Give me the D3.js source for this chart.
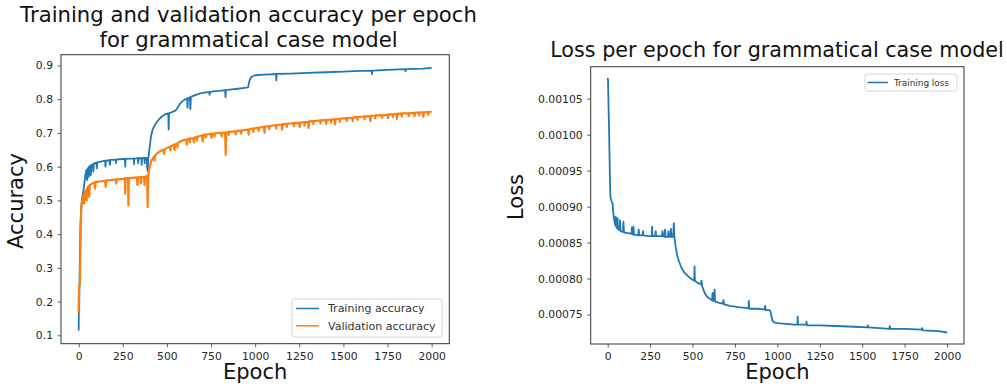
<!DOCTYPE html>
<html>
<head>
<meta charset="utf-8">
<script src="https://cdn.jsdelivr.net/npm/d3@7/dist/d3.min.js"></script>
<style>
body { margin: 0; background: #fff; }
text { font-family: "DejaVu Sans", sans-serif; }
</style>
</head>
<body>
<svg id="chart" width="1007" height="387"></svg>
<script>
// tick values
var epochTicks = [0, 250, 500, 750, 1000, 1250, 1500, 1750, 2000];
var accTicks = [0.1, 0.2, 0.3, 0.4, 0.5, 0.6, 0.7, 0.8, 0.9];
var lossTicks = [0.00075, 0.00080, 0.00085, 0.00090, 0.00095, 0.00100, 0.00105];

// [epoch, value] (spikes kept as separate points)
var trainAcc = [[0,0.114],[1,0.165],[3,0.17],[6,0.3],[10,0.42],[15,0.48],[20,0.51],[26,0.525],[32,0.55],[38,0.575],
    [44,0.59],[48,0.56],[50,0.593],[55,0.597],[58,0.57],[60,0.6],[66,0.603],[69,0.575],[72,0.605],[80,0.607],
    [83,0.585],[86,0.609],[100,0.612],[103,0.595],[106,0.613],[130,0.616],[150,0.618],[152,0.6],[154,0.618],[175,0.619],
    [177,0.605],[179,0.62],[210,0.621],[212,0.61],[214,0.621],[230,0.622],[262,0.623],[264,0.6],[266,0.623],[300,0.624],
    [312,0.624],[314,0.607],[316,0.624],[335,0.625],[337,0.61],[339,0.625],[355,0.625],[357,0.605],[359,0.625],
    [372,0.626],[374,0.61],[376,0.626],[385,0.626],[388,0.6],[391,0.587],[394,0.62],[398,0.64],[404,0.665],[410,0.69],
    [418,0.708],[428,0.72],[440,0.73],[455,0.74],[470,0.748],[490,0.755],[508,0.758],[510,0.71],[512,0.758],[530,0.762],
    [548,0.766],[560,0.775],[575,0.787],[590,0.795],[605,0.8],[615,0.803],[617,0.775],[619,0.803],[630,0.806],[633,0.77],
    [636,0.807],[660,0.812],[690,0.817],[720,0.82],[740,0.821],[742,0.813],[744,0.821],[760,0.823],[800,0.825],
    [830,0.827],[832,0.806],[834,0.827],[870,0.829],[900,0.831],[930,0.833],[960,0.835],[966,0.85],[972,0.862],
    [985,0.868],[1000,0.871],[1050,0.873],[1100,0.874],[1118,0.875],[1120,0.856],[1122,0.875],[1200,0.876],
    [1300,0.878],[1400,0.88],[1500,0.882],[1560,0.883],[1600,0.884],[1660,0.885],[1662,0.874],[1664,0.885],
    [1750,0.887],[1850,0.889],[1852,0.883],[1854,0.889],[1950,0.891],[2000,0.893]];

var valAcc = [[0,0.165],[2,0.245],[7,0.25],[10,0.35],[13,0.45],[17,0.49],[22,0.505],[27,0.515],[30,0.49],[33,0.52],
    [40,0.53],[45,0.5],[48,0.535],[55,0.542],[60,0.51],[63,0.545],[75,0.55],[90,0.553],[93,0.535],[96,0.554],
    [120,0.556],[150,0.558],[153,0.54],[156,0.559],[190,0.561],[210,0.562],[213,0.55],[216,0.562],[250,0.564],
    [262,0.565],[264,0.52],[266,0.565],[280,0.566],[282,0.485],[284,0.566],[310,0.567],[330,0.568],[333,0.545],
    [336,0.568],[350,0.569],[353,0.55],[356,0.569],[370,0.57],[373,0.545],[376,0.57],[388,0.572],[391,0.48],
    [394,0.572],[398,0.59],[403,0.6],[410,0.615],[420,0.625],[428,0.63],[430,0.618],[432,0.631],[440,0.637],
    [460,0.645],[480,0.65],[483,0.638],[486,0.651],[500,0.655],[518,0.66],[520,0.648],[522,0.66],[540,0.665],
    [543,0.65],[546,0.666],[558,0.669],[560,0.657],[562,0.67],[570,0.673],[590,0.678],[610,0.68],[613,0.665],
    [616,0.681],[628,0.683],[630,0.672],[632,0.683],[650,0.685],[653,0.672],[656,0.686],[668,0.688],[670,0.678],
    [672,0.688],[680,0.69],[700,0.693],[703,0.675],[706,0.694],[718,0.695],[720,0.686],[722,0.695],[750,0.697],
    [753,0.686],[756,0.698],[768,0.698],[770,0.69],[772,0.699],[800,0.7],[808,0.7],[810,0.69],[812,0.701],
    [830,0.701],[833,0.635],[836,0.702],[848,0.703],[850,0.694],[852,0.703],[870,0.704],[888,0.705],[890,0.696],
    [892,0.705],[900,0.706],[918,0.707],[920,0.698],[922,0.707],[930,0.708],[960,0.71],[963,0.695],[966,0.711],
    [988,0.713],[990,0.703],[992,0.713],[1000,0.714],[1018,0.715],[1020,0.706],[1022,0.716],[1050,0.718],
    [1053,0.7],[1056,0.719],[1078,0.72],[1080,0.711],[1082,0.72],[1100,0.722],[1118,0.723],[1120,0.713],
    [1122,0.723],[1150,0.725],[1153,0.71],[1156,0.726],[1178,0.727],[1180,0.718],[1182,0.727],[1200,0.728],
    [1218,0.729],[1220,0.72],[1222,0.729],[1250,0.73],[1253,0.718],[1256,0.731],[1278,0.732],[1280,0.722],
    [1282,0.732],[1300,0.733],[1303,0.715],[1306,0.734],[1328,0.735],[1330,0.726],[1332,0.735],[1350,0.736],
    [1368,0.737],[1370,0.728],[1372,0.737],[1400,0.738],[1403,0.727],[1406,0.739],[1428,0.739],[1430,0.731],
    [1432,0.74],[1450,0.74],[1453,0.725],[1456,0.741],[1478,0.742],[1480,0.733],[1482,0.742],[1500,0.743],
    [1518,0.744],[1520,0.736],[1522,0.744],[1550,0.745],[1553,0.735],[1556,0.746],[1578,0.747],[1580,0.739],
    [1582,0.747],[1600,0.748],[1618,0.749],[1620,0.74],[1622,0.749],[1650,0.75],[1653,0.735],[1656,0.751],
    [1678,0.751],[1680,0.743],[1682,0.752],[1700,0.752],[1718,0.753],[1720,0.745],[1722,0.753],[1750,0.754],
    [1753,0.744],[1756,0.755],[1778,0.755],[1780,0.747],[1782,0.756],[1800,0.756],[1803,0.742],[1806,0.757],
    [1828,0.757],[1830,0.749],[1832,0.758],[1850,0.758],[1868,0.758],[1870,0.75],[1872,0.759],[1900,0.759],
    [1903,0.75],[1906,0.76],[1928,0.76],[1930,0.752],[1932,0.761],[1950,0.761],[1953,0.748],[1956,0.761],
    [1978,0.762],[1980,0.754],[1982,0.762],[2000,0.763]];

var trainLoss = [[0,0.001079],[2,0.001076],[5,0.00104],[8,0.00101],[11,0.00097],[14,0.00093],[17,0.000912],
    [22,0.000908],[28,0.000905],[32,0.000895],[36,0.000885],[42,0.000877],[45,0.000874],[47,0.000886],[49,0.000873],
    [55,0.00087],[58,0.000884],[60,0.000869],[70,0.000867],[73,0.000881],[76,0.000866],[90,0.000865],[93,0.000879],
    [96,0.000864],[120,0.000863],[140,0.000862],[143,0.000871],[146,0.000862],[150,0.000861],[152,0.000872],
    [155,0.000861],[180,0.00086],[183,0.000868],[186,0.00086],[205,0.00086],[208,0.000866],[211,0.00086],
    [240,0.000859],[260,0.000859],[262,0.000872],[264,0.000859],[280,0.000859],[283,0.000866],[286,0.000859],
    [320,0.000859],[323,0.000866],[326,0.000859],[335,0.000858],[338,0.000868],[341,0.000858],[355,0.000858],
    [358,0.000866],[361,0.000858],[370,0.000858],[373,0.000869],[376,0.000858],[386,0.000858],[390,0.000877],
    [394,0.000856],[400,0.000845],[410,0.000832],[420,0.000824],[435,0.000815],[450,0.000809],[470,0.000804],
    [490,0.0008],[510,0.000797],[512,0.000817],[514,0.000797],[530,0.000794],[550,0.000792],[553,0.000797],
    [556,0.00079],[570,0.000781],[585,0.000775],[600,0.000772],[615,0.00077],[618,0.00078],[621,0.000769],
    [627,0.000769],[630,0.000785],[633,0.000768],[660,0.000766],[680,0.000765],[683,0.00077],[686,0.000764],
    [720,0.000762],[750,0.000761],[780,0.00076],[830,0.000759],[832,0.000769],[834,0.000758],[880,0.000758],
    [925,0.000757],[928,0.000762],[931,0.000756],[955,0.000756],[962,0.000752],[970,0.000742],[980,0.000739],
    [1000,0.000738],[1050,0.000737],[1100,0.000736],[1118,0.000736],[1120,0.000747],[1122,0.000736],
    [1170,0.000736],[1172,0.00074],[1174,0.000735],[1250,0.000735],[1350,0.000734],[1450,0.000733],
    [1530,0.000732],[1533,0.000735],[1536,0.000732],[1600,0.000731],[1660,0.00073],[1663,0.000734],[1666,0.00073],
    [1750,0.00073],[1850,0.000729],[1853,0.000731],[1856,0.000728],[1950,0.000727],[2000,0.000725]];

var blue = "#1f77b4", orange = "#ff7f0e";
var svg = d3.select("#chart");

function drawPanel(p) {
    var xScale = d3.scaleLinear().domain([-100, 2100]).range([p.left, p.right]);
    var yScale = d3.scaleLinear().domain(p.yDomain).range([p.bottom, p.top]);

    var line = d3.line()
        .x(function (d) { return xScale(d[0]); })
        .y(function (d) { return yScale(d[1]); });

    p.series.forEach(function (s) {
        svg.append("path")
            .datum(s.data)
            .attr("fill", "none")
            .attr("stroke", s.color)
            .attr("stroke-width", s.width)
            .attr("stroke-linejoin", "round")
            .attr("d", line);
    });

    var gx = svg.append("g")
        .attr("transform", "translate(0," + p.bottom + ")")
        .call(d3.axisBottom(xScale).tickValues(epochTicks).tickSize(3.5).tickPadding(5).tickFormat(d3.format("d")));
    var gy = svg.append("g")
        .attr("transform", "translate(" + p.left + ",0)")
        .call(d3.axisLeft(yScale).tickValues(p.yTicks).tickSize(3.5).tickPadding(4.5).tickFormat(p.yFormat));
    [gx, gy].forEach(function (g) {
        g.select(".domain").remove();
        g.selectAll("line").attr("stroke", "#333").attr("stroke-width", 0.8);
        g.selectAll("text").attr("fill", "#262626").style("font-size", "10.8px")
            .style("font-family", "'DejaVu Sans', sans-serif");
    });

    // frame
    svg.append("rect")
        .attr("x", p.left).attr("y", p.top)
        .attr("width", p.right - p.left).attr("height", p.bottom - p.top)
        .attr("fill", "none").attr("stroke", "#333").attr("stroke-width", 1);

    // titles and labels
    var t = svg.append("text")
        .attr("text-anchor", "middle")
        .attr("fill", "#111")
        .style("font-size", p.titleFont);
    p.title.forEach(function (s, i) {
        t.append("tspan").attr("x", p.titleX).attr("y", p.titleY + i * 24.5).text(s);
    });

    svg.append("text")
        .attr("x", (p.left + p.right) / 2).attr("y", 379)
        .attr("text-anchor", "middle").attr("fill", "#111")
        .style("font-size", "21px")
        .text("Epoch");

    svg.append("text")
        .attr("transform", "translate(" + p.yLabelX + "," + p.yLabelY + ") rotate(-90)")
        .attr("text-anchor", "middle").attr("fill", "#111")
        .style("font-size", "21px")
        .text(p.yLabel);

    // legend
    var lg = p.legend;
    svg.append("rect")
        .attr("x", lg.x).attr("y", lg.y).attr("width", lg.w).attr("height", lg.h)
        .attr("rx", 2.5)
        .attr("fill", "#fff").attr("fill-opacity", 0.8)
        .attr("stroke", "#d6d6d6").attr("stroke-width", 1);
    p.series.forEach(function (s, i) {
        var yy = lg.rowY + i * lg.rowH;
        svg.append("line")
            .attr("x1", lg.x + lg.pad).attr("x2", lg.x + lg.pad + lg.lineW)
            .attr("y1", yy).attr("y2", yy)
            .attr("stroke", s.color).attr("stroke-width", 1.5);
        svg.append("text")
            .attr("x", lg.x + lg.textX).attr("y", yy)
            .attr("dy", "0.35em")
            .attr("fill", "#333")
            .style("font-size", lg.font)
            .text(s.name);
    });
}

drawPanel({
    left: 61, right: 449.3, top: 54.7, bottom: 343.7,
    yDomain: [0.075, 0.932], yTicks: accTicks, yFormat: d3.format(".1f"),
    series: [{name: "Training accuracy", data: trainAcc, color: blue, width: 1.8},
             {name: "Validation accuracy", data: valAcc, color: orange, width: 2.2}],
    title: ["Training and validation accuracy per epoch", "for grammatical case model"],
    titleFont: "21.2px", titleX: 248.5, titleY: 22,
    yLabel: "Accuracy", yLabelX: 22.5, yLabelY: 201,
    legend: {x: 292, y: 299, w: 150, h: 38, pad: 4, lineW: 23, textX: 36, rowY: 308.5, rowH: 17.3, font: "11px"}
});

drawPanel({
    left: 590.7, right: 964, top: 66.7, bottom: 344,
    yDomain: [0.000709, 0.0010945], yTicks: lossTicks, yFormat: d3.format(".5f"),
    series: [{name: "Training loss", data: trainLoss, color: blue, width: 1.8}],
    title: ["Loss per epoch for grammatical case model"],
    titleFont: "20.7px", titleX: 777, titleY: 56.5,
    yLabel: "Loss", yLabelX: 523, yLabelY: 197,
    legend: {x: 865, y: 74, w: 92, h: 17, pad: 2.5, lineW: 20.5, textX: 29, rowY: 82.5, rowH: 14, font: "8.9px"}
});
</script>
</body>
</html>
